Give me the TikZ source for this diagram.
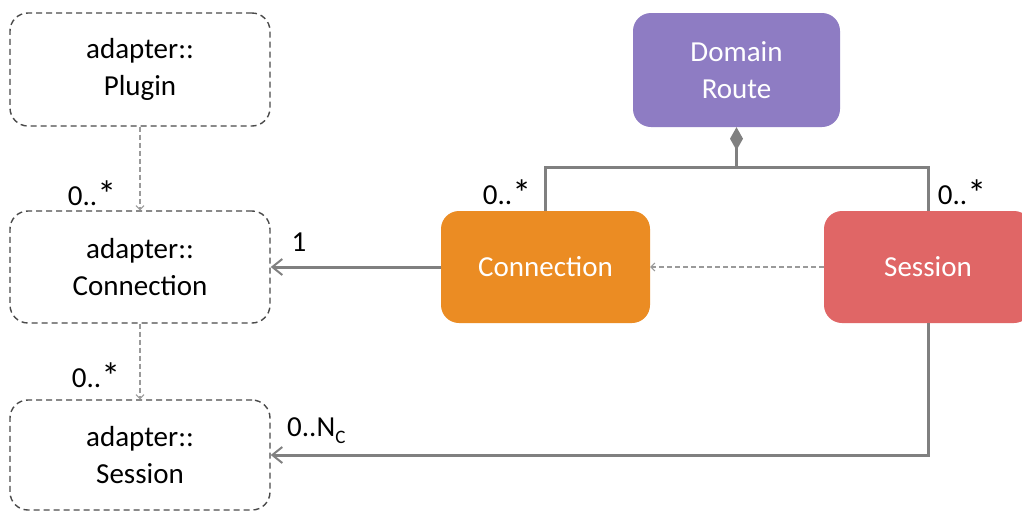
\documentclass[tikz,border=0pt]{standalone}
\usepackage{fontspec}
\setmainfont{Carlito}
\usetikzlibrary{arrows.meta}
\definecolor{routec}{HTML}{8E7CC3}
\definecolor{connc}{HTML}{EB8C23}
\definecolor{sessc}{HTML}{E06666}
\definecolor{boxline}{HTML}{4A4A4A}
\definecolor{linec}{HTML}{808080}
\definecolor{dashc}{HTML}{9A9A9A}
\newcommand{\bigast}{\raisebox{-2pt}{\scalebox{1.3}{*}}}
\tikzset{
  adbox/.style={draw=boxline, line width=1.4pt, dash pattern=on 6pt off 4pt, rounded corners=18pt,
    align=center, inner sep=0pt, font=\fontsize{29}{37}\selectfont, text=black},
  colbox/.style={draw=none, fill=#1, rounded corners=18pt, align=center, inner sep=0pt,
    font=\fontsize{29}{37}\selectfont, text=white},
  solidconn/.style={draw=linec, line width=3pt, -{Straight Barb[length=10pt,width=16pt,line width=2pt]}},
  dashconn/.style={draw=dashc, line width=1.1pt, dash pattern=on 5pt off 3pt,
    -{Straight Barb[length=4pt,width=8pt,line width=1pt]}},
  compline/.style={draw=linec, line width=3pt},
  lab/.style={font=\fontsize{29}{34}\selectfont, text=black, inner sep=0pt}
}
\begin{document}
\begin{tikzpicture}[x=1pt,y=-1pt]
\clip (0,0) rectangle (1022,512);
\fill[white] (0,0) rectangle (1022,512);
% adapter boxes
\node[adbox, minimum width=260pt, minimum height=113pt] (plugin) at (140,69.5) {adapter::\\Plugin};
\node[adbox, minimum width=260pt, minimum height=112pt] (aconn) at (140,267) {adapter::\\Connection};
\node[adbox, minimum width=260pt, minimum height=110pt] (asess) at (140,455) {adapter::\\Session};
% coloured boxes
\node[colbox=routec, minimum width=207pt, minimum height=114pt] (route) at (736.5,70) {Domain\\Route};
\node[colbox=connc, minimum width=209pt, minimum height=112pt] (conn) at (545.5,267) {Connection};
\node[colbox=sessc, minimum width=208pt, minimum height=112pt] (sess) at (928,267) {Session};
% connectors
\draw[dashconn] (plugin) -- (aconn);
\draw[dashconn] (aconn) -- (asess);
\draw[solidconn] (conn.west) -- (aconn.east);
\draw[dashconn] (sess.west) -- (conn.east);
\draw[solidconn] (sess.south) |- (asess.east);
\coordinate (bus) at (736.5,167);
\draw[compline, {Diamond[length=23pt,width=13pt]}-] (route.south) -- (bus);
\draw[compline] (conn.north) |- (bus) -| (sess.north);
% labels
\node[lab] (l1) at (92,194) {0..\bigast};
\node[lab] (l2) at (96,376) {0..\bigast};
\node[lab] (l3) at (299,242) {1};
\node[lab, anchor=west] (l4) at (287,431) {0..N\raisebox{-7pt}{\fontsize{19}{19}\selectfont C}};
\node[lab] (l5) at (507,193) {0..\bigast};
\node[lab] (l6) at (962,193) {0..\bigast};
\end{tikzpicture}
\end{document}
